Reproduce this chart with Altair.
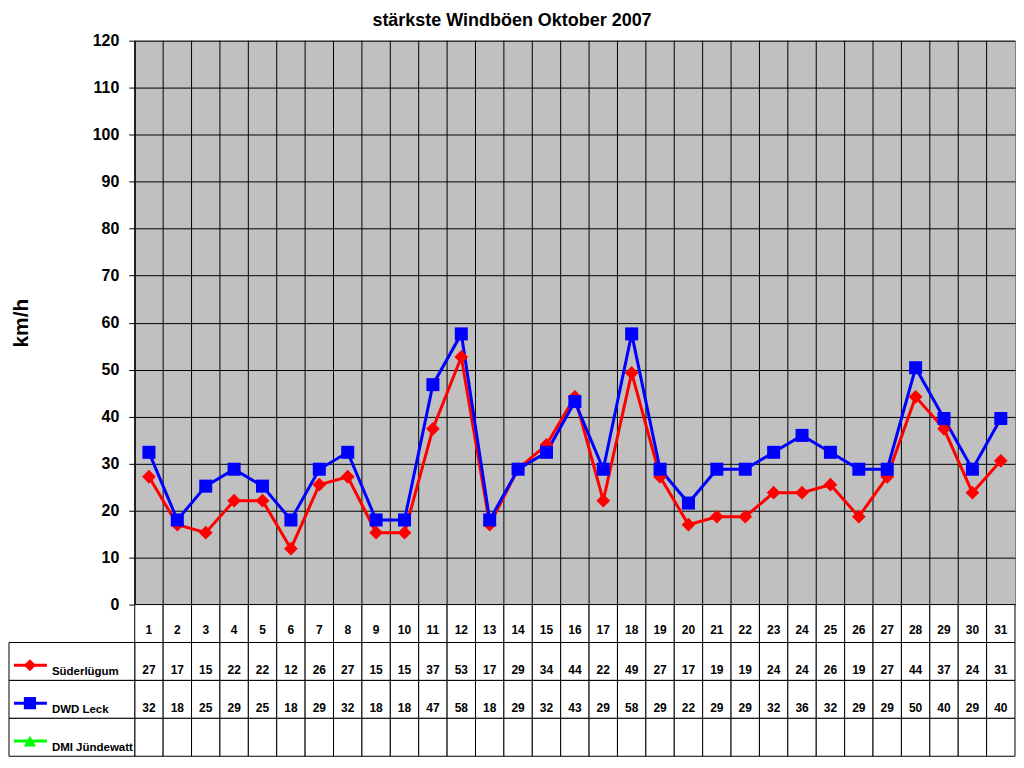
import altair as alt
import pandas as pd

days = list(range(1, 32))
sued = [27.2, 17.0, 15.3, 22.1, 22.1, 11.9, 25.5, 27.2, 15.3, 15.3, 37.4, 52.7, 17.0, 28.9, 34.0,
        44.2, 22.1, 49.3, 27.2, 17.0, 18.7, 18.7, 23.8, 23.8, 25.5, 18.7, 27.2, 44.2, 37.4, 23.8, 30.6]
dwd = [32.4, 18.0, 25.2, 28.8, 25.2, 18.0, 28.8, 32.4, 18.0, 18.0, 46.8, 57.6, 18.0, 28.8, 32.4,
       43.2, 28.8, 57.6, 28.8, 21.6, 28.8, 28.8, 32.4, 36.0, 32.4, 28.8, 28.8, 50.4, 39.6, 28.8, 39.6]
sued_tab = [27, 17, 15, 22, 22, 12, 26, 27, 15, 15, 37, 53, 17, 29, 34, 44, 22, 49, 27, 17, 19, 19,
            24, 24, 26, 19, 27, 44, 37, 24, 31]
dwd_tab = [32, 18, 25, 29, 25, 18, 29, 32, 18, 18, 47, 58, 18, 29, 32, 43, 29, 58, 29, 22, 29, 29,
           32, 36, 32, 29, 29, 50, 40, 29, 40]
series_names = ["Süderlügum", "DWD Leck", "DMI Jündewatt"]
series_colors = ["#FF0000", "#0000FF", "#00FF00"]
series_shapes = ["diamond", "square", "triangle-up"]
title_text = "stärkste Windböen Oktober 2007"
y_title = "km/h"

FONT = "Liberation Sans"

long = pd.DataFrame({
    "day": days * 2,
    "value": sued + dwd,
    "series": [series_names[0]] * len(days) + [series_names[1]] * len(days),
})
daydf = pd.DataFrame({"day": days})

xscale = alt.Scale(paddingInner=0, paddingOuter=0)
xenc = alt.X("day:O", scale=xscale, axis=None)
yenc = alt.Y("value:Q", scale=alt.Scale(domain=[0, 120], nice=False),
             axis=alt.Axis(values=list(range(0, 121, 10)), title=y_title, grid=True,
                           gridColor="black", gridWidth=1, gridOpacity=1,
                           domainColor="black", tickColor="black", tickSize=6,
                           labelFont=FONT, labelFontSize=16, labelFontWeight="bold", labelColor="black",
                           labelPadding=10, titleFont=FONT, titleFontSize=21, titleFontWeight="bold",
                           titleColor="black", titlePadding=61))
color = alt.Color("series:N", scale=alt.Scale(domain=series_names, range=series_colors), legend=None)
shape = alt.Shape("series:N", scale=alt.Scale(domain=series_names, range=series_shapes), legend=None)
size = alt.Size("series:N", scale=alt.Scale(domain=series_names, range=[190, 150, 150]), legend=None)

vgrid = alt.Chart(daydf).mark_rule(color="black", strokeWidth=1).encode(
    x=alt.X("day:O", scale=xscale, axis=None, bandPosition=0))
lines = alt.Chart(long).mark_line(strokeWidth=3).encode(x=xenc, y=yenc, color=color)
points = alt.Chart(long).mark_point(filled=True, opacity=1).encode(x=xenc, y=yenc, color=color,
                                                                   shape=shape, size=size)
main = alt.layer(vgrid, lines, points).properties(
    width=882, height=565,
    view=alt.ViewBackground(fill="#C0C0C0", stroke="#808080", strokeWidth=1),
)

# data table
rows = ["hdr"] + series_names
recs = []
for i, d in enumerate(days):
    recs.append({"day": d, "row": "hdr", "label": str(d)})
    recs.append({"day": d, "row": series_names[0], "label": str(sued_tab[i])})
    recs.append({"day": d, "row": series_names[1], "label": str(dwd_tab[i])})
    recs.append({"day": d, "row": series_names[2], "label": ""})
tdf = pd.DataFrame(recs)
legdf = pd.DataFrame({"row": series_names, "color": series_colors, "shape": series_shapes})

tx = alt.X("day:O", scale=alt.Scale(paddingInner=0, paddingOuter=0), axis=None)
ty = alt.Y("row:N", sort=rows, scale=alt.Scale(paddingInner=0, paddingOuter=0), axis=None)
ty_bottom = alt.Y("row:N", sort=rows, bandPosition=1, axis=None)
ty_mid = alt.Y("row:N", sort=rows, bandPosition=0.6, axis=None)

cells = alt.Chart(tdf).mark_rect(fill="white", stroke="black", strokeWidth=1).encode(x=tx, y=ty)
hdr_text = alt.Chart(tdf).transform_filter(alt.datum.row == "hdr").mark_text(
    font=FONT, fontSize=12, fontWeight="bold", color="black", baseline="middle", dy=6
).encode(x=tx, y=alt.Y("row:N", sort=rows, bandPosition=0.5, axis=None), text="label:N")
val_text = alt.Chart(tdf).transform_filter(alt.datum.row != "hdr").mark_text(
    font=FONT, fontSize=12, fontWeight="bold", color="black", baseline="bottom", dy=-3
).encode(x=tx, y=ty_bottom, text="label:N")

leg_cells = alt.Chart(legdf).mark_rect(fill="white", stroke="black", strokeWidth=1).encode(
    x=alt.value(-126), x2=alt.value(0), y=ty)
leg_line = alt.Chart(legdf).mark_rule(strokeWidth=3).encode(
    x=alt.value(-121), x2=alt.value(-88), y=ty_mid, color=alt.Color("color:N", scale=None))
leg_pt = alt.Chart(legdf).mark_point(filled=True, opacity=1, size=150).encode(
    x=alt.value(-105), y=ty_mid, color=alt.Color("color:N", scale=None),
    shape=alt.Shape("shape:N", scale=None))
leg_text = alt.Chart(legdf).mark_text(
    font=FONT, fontSize=11.5, fontWeight="bold", color="black", align="left", baseline="bottom", dy=-3
).encode(x=alt.value(-83), y=ty_bottom, text="row:N")

table = alt.layer(cells, hdr_text, val_text, leg_cells, leg_line, leg_pt, leg_text).properties(
    width=882, height=152,
    view=alt.ViewBackground(stroke=None),
)

chart = alt.vconcat(main, table, spacing=0, bounds="flush").properties(
    title=alt.TitleParams(title_text, font=FONT, fontSize=18, fontWeight="bold", color="black",
                          anchor="middle", dx=0, offset=2),
    padding={"left": 0, "top": 3, "right": 0, "bottom": 0},
).configure_view(strokeWidth=1)

chart.save("out.html", embed_options={"renderer": "svg", "actions": False})
